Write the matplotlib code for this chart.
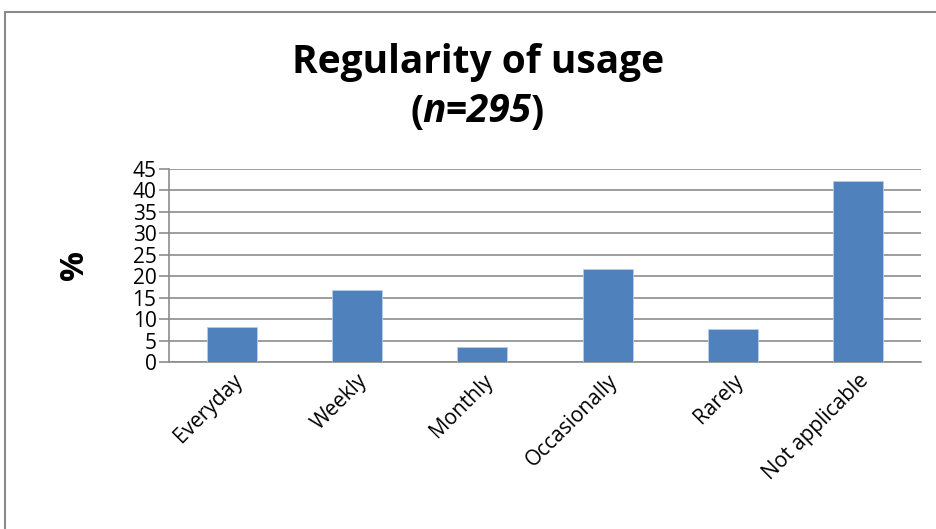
import matplotlib
matplotlib.use("Agg")
import matplotlib.pyplot as plt
from matplotlib.patches import Rectangle

categories = ["Everyday", "Weekly", "Monthly", "Occasionally", "Rarely", "Not applicable"]
values = [8.1, 16.9, 3.4, 21.7, 7.8, 42.1]
yticks = [0, 5, 10, 15, 20, 25, 30, 35, 40, 45]

W, H = 936, 529
fig = plt.figure(figsize=(W / 100, H / 100), dpi=100)
plt.rcParams['font.family'] = ['Open Sans', 'DejaVu Sans']

# outer chart border
fig.patches.append(Rectangle((5 / W, -0.1), 1.2, 1 - 12 / H + 0.1, transform=fig.transFigure,
                             fill=False, edgecolor="#8a8a8a", linewidth=1.5))

ax = fig.add_axes([169 / W, 1 - 362 / H, (921 - 169) / W, (362 - 169) / H])
x = range(len(categories))
ax.bar(x, values, width=0.4, color="#4f81bd", edgecolor="#b9cde5", linewidth=0.6, zorder=3)
ax.set_xlim(-0.5, len(categories) - 0.5)
ax.set_ylim(0, 45)
ax.set_yticks(yticks)
ax.set_yticklabels([str(t) for t in yticks], fontsize=15)
ax.yaxis.grid(True, color="#8c8c8c", linewidth=1.2, zorder=0)
ax.set_axisbelow(True)
for s in ["top", "right"]:
    ax.spines[s].set_visible(False)
ax.spines["left"].set_color("#8c8c8c")
ax.spines["bottom"].set_color("#8c8c8c")
ax.spines["left"].set_linewidth(1.2)
ax.spines["bottom"].set_linewidth(1.2)
ax.tick_params(axis="y", length=7, color="#8c8c8c", width=1.2, pad=2)
ax.tick_params(axis="x", length=0, pad=6)
ax.set_xticks(list(x))
ax.set_xticklabels(categories, rotation=45, ha="right", rotation_mode="anchor", fontsize=15)

ax.set_ylabel("%", fontsize=24, fontweight="bold", labelpad=30)

fig.text(478 / W, 1 - 62 / H, "Regularity of usage", ha="center", va="center",
         fontsize=28, fontweight="bold")

# second title line: "(" + italic "n=295" + ")"
renderer = fig.canvas.get_renderer()
parts = [("(", "normal"), ("n=295", "italic"), (")", "normal")]
texts = []
for s, st in parts:
    t = fig.text(0, 1 - 112 / H, s, ha="left", va="center", fontsize=28,
                 fontweight="bold", fontstyle=st)
    texts.append(t)
widths = [t.get_window_extent(renderer).width for t in texts]
total = sum(widths)
xpos = 478 - total / 2
for t, w in zip(texts, widths):
    t.set_x(xpos / W)
    xpos += w - 1

fig.savefig("out.png", dpi=100)
